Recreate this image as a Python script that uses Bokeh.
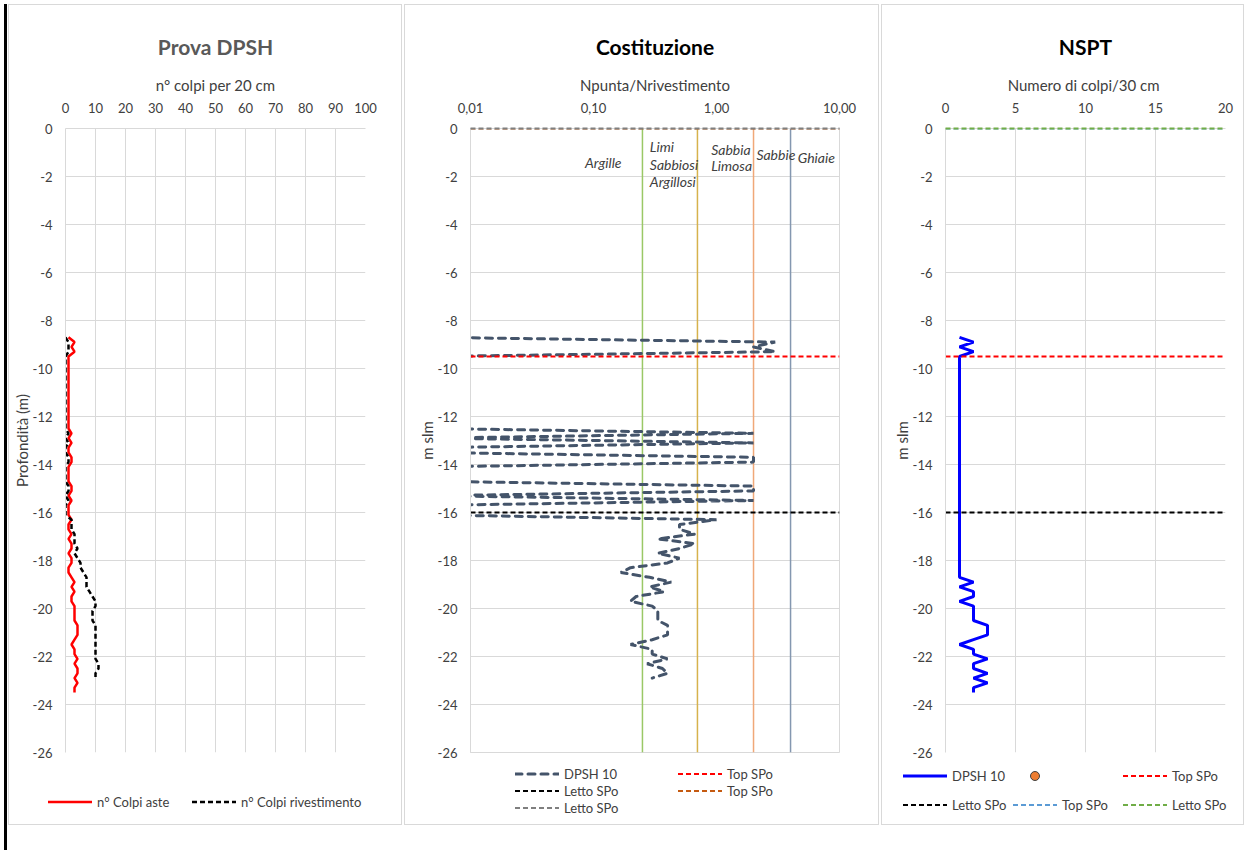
from bokeh.plotting import figure
from bokeh.models import Range1d, FixedTicker, Div
from bokeh.layouts import row, column
from bokeh.embed import file_html
from bokeh.resources import INLINE
from bokeh.core.properties import value
import numpy as np

FONT = "Lato"
TXT = "#404040"
GRID = "#d9d9d9"

# ---------------- data ----------------
depth = [-8.7, -8.9, -9.1, -9.3, -9.5, -9.7, -9.9, -10.1, -10.3, -10.5,
         -10.7, -10.9, -11.1, -11.3, -11.5, -11.7, -11.9, -12.1, -12.3, -12.5,
         -12.7, -12.9, -13.1, -13.3, -13.5, -13.7, -13.9, -14.1, -14.3, -14.5,
         -14.7, -14.9, -15.1, -15.3, -15.5, -15.7, -15.9, -16.1, -16.3, -16.5,
         -16.7, -16.9, -17.1, -17.3, -17.5, -17.7, -17.9, -18.1, -18.3, -18.5,
         -18.7, -18.9, -19.1, -19.3, -19.5, -19.7, -19.9, -20.1, -20.3, -20.5,
         -20.7, -20.9, -21.1, -21.3, -21.5, -21.7, -21.9, -22.1, -22.3, -22.5,
         -22.7, -22.9, -23.1, -23.3, -23.5]

colpi_aste = [1, 3, 2, 3, 1, 1, 1, 1, 1, 1,
              1, 1, 1, 1, 1, 1, 1, 1, 1, 1,
              2, 1, 2, 1, 1, 2, 2, 1, 1, 1,
              1, 2, 2, 1, 2, 1, 1, 1, 2, 1,
              1, 2, 1, 2, 2, 1, 2, 2, 1, 1,
              2, 3, 2, 3, 2, 2, 3, 3, 3, 3,
              4, 4, 4, 3, 2, 3, 3, 4, 3, 4,
              4, 3, 4, 3, 3]

colpi_riv = [0, 1, 1, 1, 0, 0, 0, 0, 0, 0,
             0, 0, 0, 0, 0, 0, 0, 0, 0, 0,
             1, 0, 1, 0, 0, 1, 1, 0, 0, 0,
             0, 1, 1, 0, 1, 0, 0, 0, 2, 2,
             2, 3, 3, 3, 4, 3, 4, 5, 5, 6,
             7, 7, 7, 8, 9, 10, 10, 9, 9, 9,
             10, 10, 10, 10, 10, 10, 10, 10, 11, 11,
             10, 10]

nspt = [1, 2, 1, 2, 1, 1, 1, 1, 1, 1,
        1, 1, 1, 1, 1, 1, 1, 1, 1, 1,
        1, 1, 1, 1, 1, 1, 1, 1, 1, 1,
        1, 1, 1, 1, 1, 1, 1, 1, 1, 1,
        1, 1, 1, 1, 1, 1, 1, 1, 1, 1,
        1, 2, 1, 2, 2, 1, 2, 2, 2, 2,
        3, 3, 3, 2, 1, 2, 2, 3, 2, 2,
        3, 2, 3, 2, 2]

spo_top = -9.5
spo_letto = -16.0
spo2_top = 0.0
spo2_letto = 0.0

class_limits = [0.25, 0.7, 2.0, 4.0]
class_colors = ["#9ac866", "#d6b24c", "#f0a878", "#8497b0"]

y_ticks = [0, -2, -4, -6, -8, -10, -12, -14, -16, -18, -20, -22, -24, -26]
y_labels = {t: str(t) for t in y_ticks}
x1_ticks = [0, 10, 20, 30, 40, 50, 60, 70, 80, 90, 100]
x2_ticks = [0.01, 0.1, 1, 10]
x2_labels = {0.01: "0,01", 0.1: "0,10", 1: "1,00", 10: "10,00"}
x3_ticks = [0, 5, 10, 15, 20]

Y0, Y1 = -26, 0
X2_MIN, X2_MAX = 0.01, 10
# Npunta/Nrivestimento; where Nriv = 0 Excel plots the error value at the axis floor
riv = np.array(colpi_riv, dtype=float)
aste_r = np.array(colpi_aste[:len(colpi_riv)], dtype=float)
ratio = np.where(riv > 0, aste_r / np.where(riv > 0, riv, 1), X2_MIN * 0.5)
depth_riv = depth[:len(colpi_riv)]

FRAME_H = 624
TOP = 123
BOTTOM = 9
LEG_H = 63

# line styles
S_ASTE = dict(line_color="#ff0000", line_width=2.5)
S_RIV = dict(line_color="#000000", line_width=2.5, line_dash="5 3")
S_DPSH = dict(line_color="#44546a", line_width=3, line_dash="7 6", line_cap="round")
S_TOP = dict(line_color="#ff0000", line_width=2, line_dash="5 3")
S_LETTO = dict(line_color="#000000", line_width=2, line_dash="5 3")
S_TOP_B = dict(line_color="#c55a11", line_width=2, line_dash="5 3")
S_LETTO_B = dict(line_color="#7f7f7f", line_width=2, line_dash="5 3")
S_NSPT = dict(line_color="#0000ff", line_width=3)
S_TOP_C = dict(line_color="#5b9bd5", line_width=2, line_dash="5 3")
S_LETTO_C = dict(line_color="#70ad47", line_width=2, line_dash="5 3")


def base_fig(frame_w, ml, mr, title, title_color, **kw):
    p = figure(frame_width=frame_w, frame_height=FRAME_H, y_range=Range1d(Y0, Y1),
               x_axis_location="above", output_backend="svg",
               toolbar_location=None, min_border_left=ml, min_border_right=mr,
               min_border_top=TOP, min_border_bottom=BOTTOM, **kw)
    p.title.text = title
    p.title.align = "center"
    p.title.text_font = FONT
    p.title.text_font_size = "21px"
    p.title.text_font_style = "bold"
    p.title.text_color = title_color
    p.title.standoff = 28
    p.outline_line_color = None
    for ax in (p.xaxis[0], p.yaxis[0]):
        ax.axis_line_color = GRID
        ax.major_tick_line_color = None
        ax.minor_tick_line_color = None
        ax.major_tick_out = 0
        ax.major_tick_in = 0
        ax.minor_tick_out = 0
        ax.major_label_text_font = FONT
        ax.major_label_text_font_size = "13px"
        ax.major_label_text_color = TXT
        ax.axis_label_text_font = FONT
        ax.axis_label_text_font_size = "15px"
        ax.axis_label_text_font_style = "normal"
        ax.axis_label_text_color = TXT
    p.xaxis[0].major_label_standoff = 16
    p.xaxis[0].axis_label_standoff = 6
    p.yaxis[0].major_label_standoff = 13
    p.yaxis[0].axis_label_standoff = -1
    p.yaxis[0].ticker = FixedTicker(ticks=y_ticks)
    p.yaxis[0].major_label_overrides = y_labels
    p.ygrid.ticker = FixedTicker(ticks=y_ticks)
    p.grid.grid_line_color = GRID
    return p


def svg_line(style):
    dash = style.get("line_dash")
    cap = style.get("line_cap", "butt")
    extra = f' stroke-dasharray="{dash}"' if dash else ""
    return (f'<line x1="0" y1="10" x2="44" y2="10" stroke="{style["line_color"]}" '
            f'stroke-width="{style["line_width"]}" stroke-linecap="{cap}"{extra}/>')


SVG_DOT = ('<circle cx="22" cy="10" r="4.5" fill="#ed7d31" stroke="#404040" '
           'stroke-width="1"/>')


def legend_div(width, entries):
    parts = [f'<div style="position:relative;width:{width}px;height:{LEG_H}px;'
             f'font-family:{FONT};font-size:13px;color:{TXT};">']
    for label, x, top, glyph in entries:
        parts.append(
            f'<div style="position:absolute;left:{x}px;top:{top}px;height:20px;'
            f'display:flex;align-items:center;white-space:nowrap;">'
            f'<svg width="44" height="20" style="display:block">{glyph}</svg>'
            f'<span style="margin-left:5px;line-height:20px">{label}</span></div>')
    parts.append('</div>')
    return Div(text="".join(parts), width=width, height=LEG_H, margin=0)


PANEL = {"border": "1px solid #d9d9d9"}

# ---------------- panel 1 ----------------
p1 = base_fig(300, 56, 36, "Prova DPSH", "#595959", x_range=Range1d(0, 100))
p1.xaxis[0].ticker = FixedTicker(ticks=x1_ticks)
p1.xgrid.ticker = FixedTicker(ticks=x1_ticks)
p1.xaxis[0].axis_label = "n° colpi per 20 cm"
p1.yaxis[0].axis_label = "Profondità (m)"
p1.line(colpi_aste, depth, **S_ASTE)
p1.line(colpi_riv, depth_riv, **S_RIV)
l1 = legend_div(392, [("n° Colpi aste", 39, 31, svg_line(S_ASTE)),
                      ("n° Colpi rivestimento", 183, 31, svg_line(S_RIV))])
c1 = column(p1, l1, spacing=0, styles=PANEL, margin=(0, 0, 0, 1))

# ---------------- panel 2 ----------------
p2 = base_fig(369, 65, 39, "Costituzione", "#000000", x_axis_type="log",
              x_range=Range1d(X2_MIN, X2_MAX))
p2.xaxis[0].ticker = FixedTicker(ticks=x2_ticks)
p2.xaxis[0].major_label_overrides = x2_labels
p2.xgrid.visible = False
p2.outline_line_color = GRID
p2.xaxis[0].axis_label = "Npunta/Nrivestimento"
p2.yaxis[0].axis_label = "m slm"
p2.segment(x0=class_limits, y0=[Y1] * 4, x1=class_limits, y1=[Y0] * 4,
           line_color=class_colors, line_width=1.5)
lbl = dict(text_font=value(FONT), text_font_size="14px", text_font_style="italic",
           text_color=TXT, text_baseline="middle")
p2.text(x=[0.12], y=[-1.43], text=["Argille"], text_align="center", **lbl)
p2.text(x=[0.287] * 3, y=[-0.75, -1.5, -2.2], text=["Limi", "Sabbiosi", "Argillosi"],
        text_align="left", **lbl)
p2.text(x=[0.905] * 2, y=[-0.89, -1.54], text=["Sabbia", "Limosa"],
        text_align="left", **lbl)
p2.text(x=[2.11], y=[-1.1], text=["Sabbie"], text_align="left", **lbl)
p2.text(x=[4.58], y=[-1.2], text=["Ghiaie"], text_align="left", **lbl)
p2.line(ratio, depth_riv, **S_DPSH)
p2.line([X2_MIN, X2_MAX], [spo2_top] * 2, **S_TOP_B)
p2.line([X2_MIN, X2_MAX], [spo2_letto] * 2, level="overlay", **S_LETTO_B)
p2.line([X2_MIN, X2_MAX], [spo_top] * 2, **S_TOP)
p2.line([X2_MIN, X2_MAX], [spo_letto] * 2, **S_LETTO)
l2 = legend_div(473, [("DPSH 10", 110, 3, svg_line(S_DPSH)),
                      ("Top SPo", 273, 3, svg_line(S_TOP)),
                      ("Letto SPo", 110, 20, svg_line(S_LETTO)),
                      ("Top SPo", 273, 20, svg_line(S_TOP_B)),
                      ("Letto SPo", 110, 37, svg_line(S_LETTO_B))])
c2 = column(p2, l2, spacing=0, styles=PANEL, margin=(0, 0, 0, 2))

# ---------------- panel 3 ----------------
p3 = base_fig(280, 63, 18, "NSPT", "#000000", x_range=Range1d(0, 20))
p3.xaxis[0].ticker = FixedTicker(ticks=x3_ticks)
p3.xgrid.ticker = FixedTicker(ticks=x3_ticks)
p3.xaxis[0].axis_label = "Numero  di colpi/30 cm"
p3.yaxis[0].axis_label = "m slm"
p3.line(nspt, depth, **S_NSPT)
p3.line([0, 20], [spo_top] * 2, **S_TOP)
p3.line([0, 20], [spo_letto] * 2, **S_LETTO)
p3.line([0, 20], [spo2_top] * 2, **S_TOP_C)
p3.line([0, 20], [spo2_letto] * 2, level="overlay", **S_LETTO_C)
l3 = legend_div(361, [("DPSH 10", 21, 5, svg_line(S_NSPT)),
                      ("", 131, 5, SVG_DOT),
                      ("Top SPo", 241, 5, svg_line(S_TOP)),
                      ("Letto SPo", 21, 34, svg_line(S_LETTO)),
                      ("Top SPo", 131, 34, svg_line(S_TOP_C)),
                      ("Letto SPo", 241, 34, svg_line(S_LETTO_C))])
c3 = column(p3, l3, spacing=0, styles=PANEL, margin=(0, 0, 0, 2))

edge = Div(text="", width=3, height=846, margin=0,
           styles={"background-color": "#000000"})

layout = row(edge, c1, c2, c3, spacing=0, margin=(4, 0, 0, 4))
open("out.html", "w").write(file_html(layout, INLINE))
